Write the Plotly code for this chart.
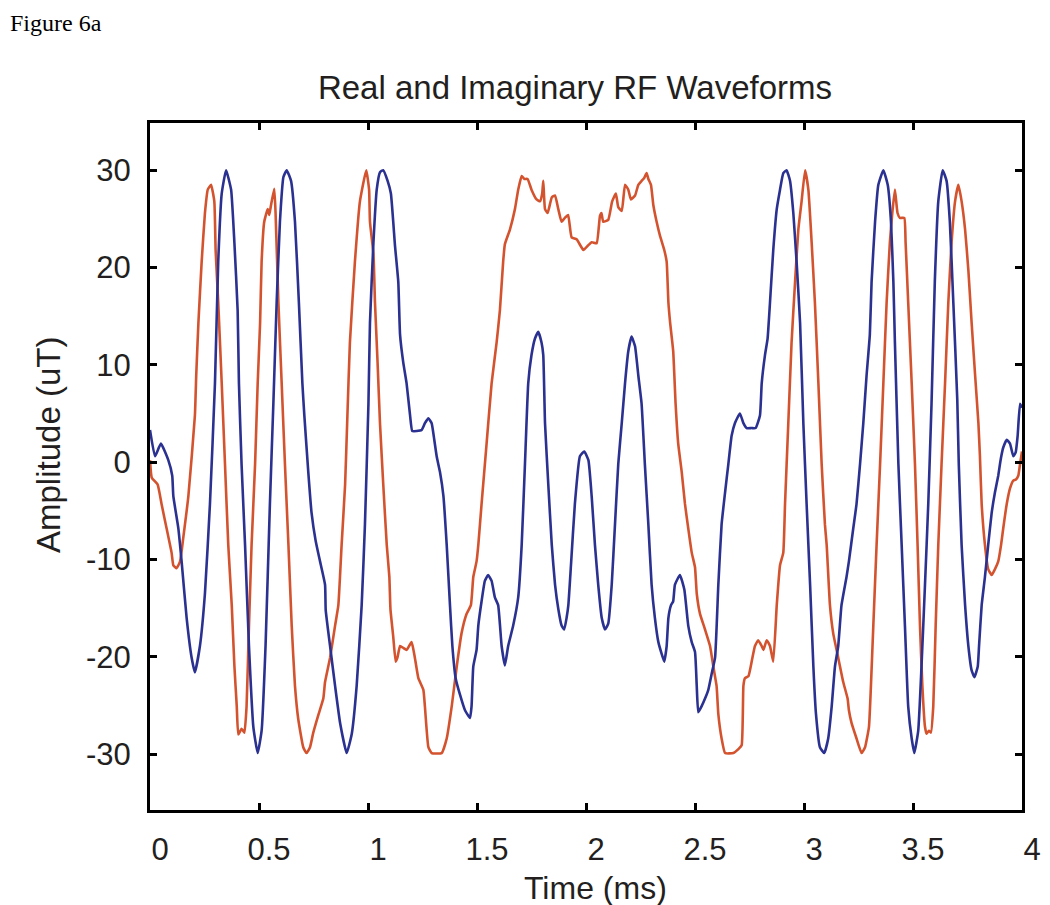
import plotly.graph_objects as go

# Real part (red) - time in ms, amplitude in uT
real_t = [0, 0.008, 0.035, 0.053, 0.076, 0.099, 0.107, 0.122, 0.138, 0.153, 0.176, 0.206, 0.212, 0.222, 0.237, 0.252, 0.265, 0.28, 0.295, 0.301,
          0.313, 0.329, 0.344, 0.359, 0.375, 0.387, 0.398, 0.405, 0.42, 0.433, 0.443, 0.454, 0.466, 0.482, 0.494, 0.505, 0.512, 0.524, 0.54, 0.547,
          0.555, 0.57, 0.576, 0.589, 0.604, 0.619, 0.635, 0.65, 0.665, 0.68, 0.703, 0.718, 0.734, 0.749, 0.772, 0.795, 0.803, 0.826, 0.849, 0.864,
          0.879, 0.895, 0.905, 0.917, 0.94, 0.963, 0.992, 1.005, 1.009, 1.025, 1.032, 1.044, 1.055, 1.07, 1.086, 1.098, 1.103, 1.116, 1.127, 1.135,
          1.147, 1.162, 1.177, 1.2, 1.215, 1.231, 1.254, 1.261, 1.277, 1.292, 1.338, 1.361, 1.384, 1.407, 1.429, 1.452, 1.472, 1.483, 1.498, 1.506,
          1.521, 1.544, 1.567, 1.59, 1.605, 1.62, 1.628, 1.651, 1.674, 1.689, 1.705, 1.717, 1.732, 1.75, 1.773, 1.789, 1.799, 1.804, 1.812, 1.824,
          1.843, 1.858, 1.873, 1.888, 1.903, 1.918, 1.934, 1.957, 1.988, 2.011, 2.026, 2.049, 2.064, 2.071, 2.079, 2.102, 2.12, 2.137, 2.148, 2.164,
          2.179, 2.194, 2.206, 2.225, 2.24, 2.255, 2.267, 2.278, 2.286, 2.298, 2.309, 2.324, 2.339, 2.359, 2.37, 2.378, 2.386, 2.4, 2.411, 2.423,
          2.439, 2.454, 2.469, 2.485, 2.5, 2.508, 2.523, 2.546, 2.569, 2.584, 2.599, 2.607, 2.622, 2.638, 2.676, 2.699, 2.714, 2.722, 2.729, 2.745,
          2.76, 2.775, 2.79, 2.806, 2.814, 2.829, 2.844, 2.859, 2.875, 2.89, 2.905, 2.913, 2.928, 2.943, 2.959, 2.974, 2.989, 3.005, 3.02, 3.035,
          3.05, 3.066, 3.081, 3.096, 3.104, 3.119, 3.134, 3.157, 3.18, 3.2, 3.206, 3.218, 3.241, 3.264, 3.28, 3.298, 3.307, 3.318, 3.333, 3.349,
          3.364, 3.379, 3.394, 3.405, 3.417, 3.429, 3.44, 3.46, 3.466, 3.478, 3.494, 3.509, 3.521, 3.532, 3.543, 3.555, 3.562, 3.573, 3.582, 3.593,
          3.604, 3.616, 3.631, 3.647, 3.662, 3.677, 3.693, 3.708, 3.723, 3.739, 3.754, 3.769, 3.785, 3.8, 3.807, 3.815, 3.83, 3.845, 3.861, 3.876,
          3.891, 3.904, 3.914, 3.93, 3.945, 3.96, 3.971, 3.983, 3.991, 4.0]
real_v = [0.2, -1.6, -2.3, -4.3, -6.8, -9.3, -10.6, -10.9, -10.2, -7.7, -3.5, 4.8, 8.9, 14.3, 20.6, 25.6, 28.0, 28.5, 26.8, 21.8,
          16.4, 8.1, -0.2, -8.5, -14.7, -20.9, -25.1, -28.0, -27.4, -27.8, -25.1, -16.8, -8.5, -0.2, 8.1, 14.3, 20.6, 24.7, 26.0, 25.4,
          26.4, 28.1, 25.6, 16.4, 8.1, -0.2, -8.5, -16.8, -23.0, -26.4, -29.3, -29.9, -29.3, -27.8, -26.0, -24.3, -22.6, -20.1, -16.8, -14.7,
          -8.5, -2.3, 4.4, 12.3, 20.6, 26.8, 30.0, 28.0, 24.7, 21.4, 16.4, 10.2, 4.0, -2.3, -8.5, -11.8, -15.1, -18.0, -20.5, -20.1,
          -18.9, -19.1, -19.3, -18.5, -20.1, -22.2, -23.4, -25.1, -29.3, -29.9, -29.9, -28.4, -25.1, -21.0, -17.6, -15.6, -14.7, -11.8, -10.2, -8.5,
          -4.3, 1.9, 8.1, 12.3, 15.6, 20.6, 22.4, 23.9, 26.0, 28.0, 29.4, 29.1, 29.1, 28.0, 27.0, 26.8, 27.6, 28.9, 26.0, 25.6,
          27.2, 27.4, 26.0, 24.7, 25.1, 25.4, 23.1, 22.9, 21.8, 22.3, 22.6, 22.5, 25.3, 25.6, 24.7, 24.9, 26.8, 27.6, 26.2, 25.8,
          28.5, 28.0, 27.0, 27.4, 28.5, 28.9, 29.2, 29.7, 29.1, 28.5, 26.4, 24.7, 23.3, 21.8, 20.6, 16.4, 14.3, 11.4, 6.0, 1.9,
          -1.0, -4.3, -6.8, -9.3, -10.8, -13.5, -15.6, -17.2, -18.9, -21.0, -23.0, -25.9, -28.4, -29.9, -29.9, -29.5, -29.1, -23.0, -22.2, -22.0,
          -20.5, -18.9, -18.3, -18.9, -19.3, -18.3, -18.9, -20.5, -14.7, -10.6, -9.3, -4.3, 4.0, 12.3, 18.5, 23.9, 26.8, 30.0, 28.0, 22.6,
          16.4, 8.1, -0.2, -6.4, -8.5, -14.7, -17.6, -20.1, -22.6, -24.3, -25.5, -26.8, -28.4, -29.9, -29.3, -27.2, -23.0, -16.8, -8.5, -0.2,
          8.1, 16.4, 22.6, 25.6, 28.0, 25.6, 25.1, 25.1, 22.6, 16.4, 8.1, -0.2, -8.5, -16.8, -23.0, -27.2, -27.9, -27.6, -27.8, -25.1,
          -16.8, -8.5, -0.2, 8.1, 16.4, 22.6, 26.8, 28.5, 26.8, 23.9, 19.7, 14.3, 8.9, 4.0, 0.6, -4.3, -8.5, -11.0, -11.6, -11.0,
          -10.2, -8.5, -6.8, -4.3, -2.7, -1.9, -1.8, -1.4, -0.2, 1.1]

# Imaginary part (blue)
imag_t = [0, 0.023, 0.05, 0.084, 0.102, 0.107, 0.13, 0.145, 0.168, 0.191, 0.206, 0.229, 0.252, 0.275, 0.298, 0.313, 0.329, 0.349, 0.372, 0.387,
          0.402, 0.408, 0.42, 0.436, 0.454, 0.474, 0.494, 0.512, 0.53, 0.55, 0.566, 0.581, 0.596, 0.612, 0.627, 0.647, 0.665, 0.683, 0.699, 0.708,
          0.726, 0.741, 0.76, 0.78, 0.803, 0.806, 0.826, 0.849, 0.872, 0.902, 0.925, 0.948, 0.971, 0.986, 1.002, 1.009, 1.025, 1.04, 1.055, 1.07,
          1.09, 1.105, 1.124, 1.139, 1.147, 1.162, 1.177, 1.193, 1.203, 1.223, 1.246, 1.261, 1.277, 1.292, 1.304, 1.315, 1.33, 1.346, 1.361, 1.376,
          1.387, 1.402, 1.422, 1.445, 1.468, 1.475, 1.483, 1.498, 1.506, 1.521, 1.536, 1.551, 1.567, 1.582, 1.597, 1.613, 1.628, 1.643, 1.666, 1.689,
          1.705, 1.72, 1.735, 1.75, 1.766, 1.781, 1.796, 1.804, 1.812, 1.827, 1.843, 1.858, 1.873, 1.888, 1.9, 1.911, 1.919, 1.931, 1.949, 1.972,
          1.992, 2.011, 2.026, 2.041, 2.056, 2.072, 2.087, 2.102, 2.118, 2.133, 2.148, 2.164, 2.179, 2.194, 2.209, 2.225, 2.24, 2.255, 2.27, 2.286,
          2.301, 2.316, 2.332, 2.347, 2.359, 2.37, 2.378, 2.39, 2.4, 2.408, 2.431, 2.451, 2.469, 2.485, 2.5, 2.508, 2.515, 2.53, 2.546, 2.561,
          2.576, 2.592, 2.607, 2.622, 2.638, 2.653, 2.668, 2.683, 2.706, 2.722, 2.737, 2.76, 2.778, 2.798, 2.806, 2.821, 2.833, 2.844, 2.859, 2.875,
          2.89, 2.905, 2.92, 2.936, 2.951, 2.966, 2.982, 2.997, 3.012, 3.028, 3.043, 3.055, 3.073, 3.093, 3.111, 3.127, 3.142, 3.157, 3.172, 3.195,
          3.206, 3.226, 3.241, 3.257, 3.272, 3.287, 3.302, 3.31, 3.326, 3.341, 3.364, 3.384, 3.399, 3.41, 3.417, 3.433, 3.448, 3.463, 3.478, 3.494,
          3.506, 3.524, 3.539, 3.555, 3.57, 3.585, 3.6, 3.616, 3.636, 3.654, 3.669, 3.685, 3.703, 3.71, 3.723, 3.739, 3.754, 3.769, 3.782, 3.797,
          3.803, 3.815, 3.83, 3.845, 3.861, 3.876, 3.891, 3.899, 3.905, 3.914, 3.93, 3.945, 3.96, 3.971, 3.98, 3.991, 4.0]
imag_v = [3.3, 0.6, 1.9, 0.2, -1.4, -3.5, -6.8, -10.2, -16.0, -20.1, -21.6, -18.9, -13.5, -4.3, 8.1, 20.6, 27.6, 30.0, 28.0, 22.6,
          15.6, 8.1, -0.2, -8.5, -18.9, -27.2, -29.9, -27.6, -18.9, -4.3, 6.1, 16.4, 24.7, 29.3, 30.0, 28.9, 24.7, 16.4, 8.1, 4.8,
          -1.0, -5.2, -8.1, -10.2, -12.6, -15.2, -18.9, -23.0, -26.8, -29.9, -28.0, -23.0, -14.7, -6.4, 6.0, 14.3, 22.6, 28.0, 29.8, 30.0,
          28.9, 27.6, 22.2, 18.5, 13.1, 10.2, 8.1, 4.8, 3.2, 3.2, 3.3, 4.0, 4.5, 4.0, 2.3, 0.6, -1.0, -3.5, -8.5, -14.7,
          -18.9, -22.2, -23.9, -25.5, -26.3, -25.1, -21.0, -19.3, -16.8, -14.3, -12.2, -11.6, -12.2, -13.9, -14.7, -18.9, -20.9, -18.9, -16.8, -13.9,
          -8.5, -0.2, 8.1, 11.0, 12.7, 13.4, 12.3, 11.0, 4.0, -2.3, -8.5, -12.6, -15.1, -16.8, -17.2, -16.0, -14.7, -10.6, -4.3, 0.6,
          1.1, 0.2, -3.5, -8.5, -12.6, -16.0, -17.2, -16.6, -12.6, -6.4, -0.2, 4.0, 8.1, 11.4, 12.9, 11.9, 8.9, 6.0, -0.2, -6.4,
          -12.6, -16.0, -18.5, -19.7, -20.5, -18.9, -16.0, -14.7, -14.3, -12.6, -11.6, -13.1, -16.8, -18.5, -19.5, -23.0, -25.7, -25.1, -24.3, -23.4,
          -21.8, -20.1, -12.6, -6.4, -3.1, -0.2, 2.7, 4.0, 5.0, 4.0, 3.5, 3.5, 3.5, 4.8, 8.1, 11.0, 12.7, 16.4, 21.8, 26.0,
          28.0, 29.7, 30.0, 28.9, 25.6, 20.6, 14.3, 4.0, -4.3, -12.6, -21.0, -25.9, -29.3, -29.9, -28.4, -25.1, -21.0, -18.9, -14.7, -11.8,
          -10.2, -6.8, -4.3, -0.2, 4.0, 8.9, 13.1, 18.5, 24.7, 28.5, 30.0, 28.5, 24.7, 18.5, 12.3, -0.2, -8.5, -16.8, -25.1, -28.4,
          -29.9, -27.6, -21.0, -12.6, -4.3, 6.0, 18.5, 26.8, 30.0, 28.9, 24.7, 16.4, 6.5, -0.2, -8.5, -14.7, -18.9, -21.4, -22.1, -21.0,
          -18.9, -14.7, -11.8, -8.5, -5.2, -3.1, -1.4, -0.2, 0.6, 1.5, 2.3, 1.9, 0.6, 1.0, 2.7, 6.0, 5.6]

x_ticks = [0, 0.5, 1, 1.5, 2, 2.5, 3, 3.5, 4]
x_tick_labels = ["0", "0.5", "1", "1.5", "2", "2.5", "3", "3.5", "4"]
y_ticks = [-30, -20, -10, 0, 10, 20, 30]
y_tick_labels = ["-30", "-20", "-10", "0", "10", "20", "30"]

RED = "#D4532F"
BLUE = "#2B3190"
FONT = "Liberation Sans, Arial, Helvetica, sans-serif"
TXT = "#231F20"

# the page body adds an 8px offset; the layout below compensates for it
OFF = 8
PL, PT, PR, PB = 150 - OFF, 123 - OFF, 1022 - OFF, 810 - OFF
PW, PH = PR - PL, PB - PT

fig = go.Figure()
fig.add_trace(go.Scatter(x=real_t, y=real_v, mode="lines", name="Real",
                         line=dict(color=RED, width=2.6, shape="spline", smoothing=0.4), showlegend=False))
fig.add_trace(go.Scatter(x=imag_t, y=imag_v, mode="lines", name="Imaginary",
                         line=dict(color=BLUE, width=2.6, shape="spline", smoothing=0.4), showlegend=False))

axis_common = dict(showgrid=False, zeroline=False, showline=True, linewidth=3, linecolor="black",
                   mirror="ticks", ticks="inside", ticklen=7, tickwidth=2.5, tickcolor="black",
                   tickfont=dict(family=FONT, size=31, color=TXT))

fig.update_xaxes(range=[0, 4], tickmode="array", tickvals=x_ticks, ticktext=x_tick_labels,
                 ticklabelstandoff=10, ticklabelshift=10, **axis_common)
fig.update_yaxes(range=[-35.75, 34.85], tickmode="array", tickvals=y_ticks, ticktext=y_tick_labels,
                 ticklabelstandoff=10, **axis_common)

fig.update_layout(
    width=1050, height=905,
    margin=dict(l=PL, r=1050 - PR, t=PT, b=905 - PB),
    paper_bgcolor="white", plot_bgcolor="white",
    title=dict(text="Real and Imaginary RF Waveforms", x=(575 - OFF) / 1050, xref="container", xanchor="center",
               y=1 - (87 - OFF) / 905, yref="container", yanchor="middle",
               font=dict(family=FONT, size=33, color=TXT)),
    annotations=[
        dict(text="Figure 6a", xref="paper", yref="paper", x=(8 - 150) / 872, y=PB / PH,
             xanchor="left", yanchor="top", showarrow=False,
             font=dict(family="Liberation Serif, Times New Roman, serif", size=24, color="black")),
        dict(text="Time (ms)", xref="paper", yref="paper", x=(595 - 150) / 872, y=(810 - 888) / 687,
             xanchor="center", yanchor="middle", showarrow=False,
             font=dict(family=FONT, size=32, color=TXT)),
        dict(text="Amplitude (uT)", xref="paper", yref="paper", x=(48 - 150) / 872, y=(810 - 445) / 687,
             xanchor="center", yanchor="middle", showarrow=False, textangle=-90,
             font=dict(family=FONT, size=33, color=TXT)),
    ],
)

fig.write_html("out.html")
